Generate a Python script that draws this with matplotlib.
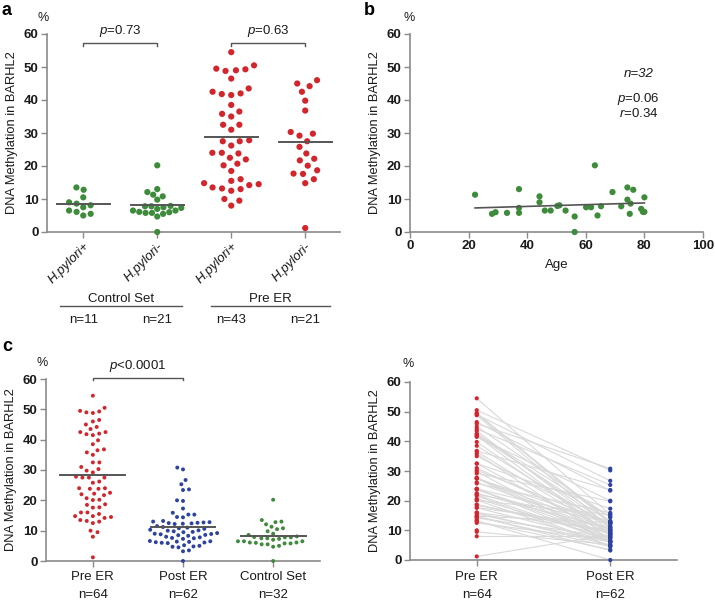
import numpy as np
import matplotlib
matplotlib.use("Agg")
import matplotlib.pyplot as plt
import matplotlib.transforms as mtrans

plt.rcParams['font.family'] = ['Liberation Sans', 'DejaVu Sans']
plt.rcParams['mathtext.fontset'] = 'custom'
plt.rcParams['mathtext.rm'] = 'Liberation Sans'
plt.rcParams['mathtext.it'] = 'Liberation Sans:italic'

# ---------------- data ----------------
control_hp_pos = [13.5, 12.8, 10.5, 8.6, 9.0, 7.5, 6.1, 6.5, 5.0, 5.5, 8.1]
control_hp_pos_age = [74.2, 76.2, 80.0, 75.3, 44.2, 60.1, 79.5, 46.0, 64.0, 28.0, 51.0]
control_hp_neg = [20.2, 13.0, 12.1, 11.3, 10.8, 9.8, 7.9, 7.8, 7.8, 7.5, 7.3, 7.0,
                  6.5, 6.5, 6.1, 6.0, 5.8, 5.8, 5.5, 4.7, 0.0]
control_hp_neg_age = [63.1, 37.2, 69.1, 22.2, 44.2, 74.2, 50.3, 65.2, 72.1, 61.8, 37.2, 78.9,
                      48.0, 53.1, 80.0, 29.2, 33.1, 37.2, 75.0, 56.2, 56.2]
pre_hp_pos = [54.5, 50.5, 49.5, 49.3, 49.0, 48.8, 46.5, 43.5, 42.5, 42.0, 41.8, 41.5,
              38.5, 36.5, 35.8, 35.0, 32.5, 32.5, 31.0, 27.8, 27.5, 27.5, 26.2, 24.0,
              24.0, 23.8, 22.5, 22.0, 20.7, 20.2, 18.5, 16.0, 15.5, 14.8, 14.5, 14.2,
              13.5, 13.2, 13.0, 12.5, 10.0, 9.5, 8.0]
pre_hp_neg = [46.0, 45.0, 44.2, 42.5, 39.8, 36.8, 30.3, 29.8, 29.2, 27.5, 25.8, 23.8,
              22.2, 21.7, 20.1, 18.7, 17.7, 17.6, 16.0, 14.8, 1.2]
# post-ER value for each pre-ER patient (same order as pre_hp_pos + pre_hp_neg), nan = missing
post_paired = [15.3, 30.2, 13.0, 12.5, 26.7, 10.8, 23.4, 9.8, 14.4, 12.8, 8.6, 20.0,
               11.0, 9.2, 6.5, 12.2, 17.3, 8.3, 10.1, 7.6, 12.4, 6.2, 9.5, 13.2,
               5.9, 8.8, 10.6, 6.4, 7.3, 4.8, 9.0, 5.0, 6.0, 12.6, 4.5, 7.8,
               np.nan, 0.0, 3.5, 6.6, np.nan, 5.2, 8.0,
               30.8, 14.5, 25.3, 11.5, 8.9, 23.6, 12.3, 6.1, 19.8, 10.3, 15.9, 7.5,
               12.7, 4.7, 15.3, 9.6, 11.2, 6.3, 10.0, 3.2, 8.5]

a_labels = ['H.pylori+', 'H.pylori-', 'H.pylori+', 'H.pylori-']
a_groups = ['Control Set', 'Pre ER']
c_labels = ['Pre ER', 'Post ER', 'Control Set']
d_labels = ['Pre ER', 'Post ER']
b_text = ['n=32', '$p$=0.06\n$r$=0.34']
p_a = ['$p$=0.73', '$p$=0.63']
p_c = '$p$<0.0001'

RED = '#d3262c'
GREEN = '#3d8b3b'
BLUE = '#2e42a0'
SPINE = '#8a8a8a'
MEANC = '#555555'
TXT = '#1a1a1a'

W, H = 715, 600
fig = plt.figure(figsize=(W / 100, H / 100), dpi=100)


def px_axes(l, t, r, b):
    return fig.add_axes([l / W, 1 - b / H, (r - l) / W, (b - t) / H])


def style(ax):
    for s in ['top', 'right']:
        ax.spines[s].set_visible(False)
    for s in ['left', 'bottom']:
        ax.spines[s].set_color(SPINE)
        ax.spines[s].set_linewidth(1.2)
    ax.tick_params(direction='out', length=4, width=1, color=SPINE, labelcolor=TXT,
                   labelsize=9.5, pad=2)
    ax.set_ylim(0, 60)
    ax.set_yticks(range(0, 61, 10))
    ax.set_yticklabels([str(v) for v in range(0, 61, 10)], fontweight='bold')


def beeswarm(ax, center, vals, D):
    """x positions (data units) of a beeswarm layout with collision distance D pixels"""
    vals = np.asarray(vals, float)
    ppx = ax.transData.transform((1, 0))[0] - ax.transData.transform((0, 0))[0]
    ppy = ax.transData.transform((0, 1))[1] - ax.transData.transform((0, 0))[1]
    xs = np.zeros_like(vals)
    px, py = [], []
    flip = 1.0
    for i in np.argsort(vals, kind='stable'):
        y = vals[i] * ppy
        ivs = []
        for xp, yp in zip(px, py):
            dy = abs(yp - y)
            if dy < D:
                w = np.sqrt(D * D - dy * dy)
                ivs.append((xp - w, xp + w))
        cands = [0.0] + [a for a, _ in ivs] + [b for _, b in ivs]
        cands.sort(key=lambda c: (round(abs(c), 4), -flip * np.sign(c)))
        chosen = 0.0
        for c in cands:
            if all(not (a + 1e-6 < c < b - 1e-6) for a, b in ivs):
                chosen = c
                break
        if chosen != 0:
            flip = -flip
        px.append(chosen)
        py.append(y)
        xs[i] = center + chosen / ppx
    return xs


def ylab(ax):
    ax.set_ylabel('DNA Methylation in BARHL2', fontsize=9.3, color=TXT, labelpad=4)


# ---------------- panel a ----------------
axa = px_axes(47, 34, 340, 232)
axa.set_xlim(-0.49, 3.47)
style(axa)
a_data = [control_hp_pos, control_hp_neg, pre_hp_pos, pre_hp_neg]
a_cols = [GREEN, GREEN, RED, RED]
a_gap = [7.6, 6.4, 9.5, 9.5]
for i, (vals, col, gap) in enumerate(zip(a_data, a_cols, a_gap)):
    xs = beeswarm(axa, i, vals, gap)
    axa.scatter(xs, vals, s=20, color=col, edgecolors='none', clip_on=False, zorder=3)
    m = np.mean(vals)
    axa.plot([i - 0.36, i + 0.36], [m, m], color=MEANC, lw=1.4, zorder=4)
axa.set_xticks(range(4))
axa.set_xticklabels(a_labels, rotation=45, ha='right', rotation_mode='anchor',
                    fontstyle='italic', fontsize=9.5)
ylab(axa)
for (x0, x1), ptxt in zip([(0, 1), (2, 3)], p_a):
    axa.plot([x0, x0, x1, x1], [56.4, 57.3, 57.3, 56.4], color=MEANC, lw=1, clip_on=False)
    axa.text((x0 + x1) / 2, 58.6, ptxt, ha='center', va='bottom', fontsize=9.5, color=TXT)
bt = mtrans.blended_transform_factory(axa.transData, fig.transFigure)
for g, lx0, lx1 in zip(a_groups, [-0.31, 1.72], [1.34, 3.34]):
    axa.text((lx0 + lx1) / 2, 1 - 299 / H, g, transform=bt, ha='center', va='center',
             fontsize=9.5, color=TXT)
    axa.plot([lx0, lx1], [1 - 306 / H] * 2, transform=bt, color=MEANC, lw=1, clip_on=False)
for i, vals in enumerate(a_data):
    axa.text(i, 1 - 320 / H, f'n={len(vals)}', transform=bt, ha='center', va='center',
             fontsize=9.5, color=TXT)

# ---------------- panel b ----------------
axb = px_axes(410, 34, 703, 232)
style(axb)
axb.set_xlim(0, 100)
axb.set_xticks(range(0, 101, 20))
axb.set_xticklabels([str(v) for v in range(0, 101, 20)], fontweight='bold')
ages = np.array(control_hp_pos_age + control_hp_neg_age)
ctrl = np.array(control_hp_pos + control_hp_neg)
axb.scatter(ages, ctrl, s=20, color=GREEN, edgecolors='none', clip_on=False, zorder=3)
k, b0 = np.polyfit(ages, ctrl, 1)
xx = np.array([ages.min(), ages.max()])
axb.plot(xx, k * xx + b0, color=MEANC, lw=1.2, zorder=4)
axb.set_xlabel('Age', fontsize=9.5, color=TXT, labelpad=5)
ylab(axb)
axb.text(78, 47.9, b_text[0], ha='center', va='center', fontsize=9.5, fontstyle='italic', color=TXT)
axb.text(78, 38.4, b_text[1], ha='center', va='center', fontsize=9.5, color=TXT, linespacing=0.95)

# ---------------- panel c ----------------
axc = px_axes(46, 379, 320, 561)
axc.set_xlim(-0.52, 2.52)
style(axc)
pre_all = np.array(pre_hp_pos + pre_hp_neg)
post_all = np.array(post_paired)
post_all = post_all[~np.isnan(post_all)]
c_data = [pre_all, post_all, ctrl]
c_cols = [RED, BLUE, GREEN]
c_gap = [6.5, 6.0, 6.0]
for i, (vals, col, gap) in enumerate(zip(c_data, c_cols, c_gap)):
    xs = beeswarm(axc, i, vals, gap)
    axc.scatter(xs, vals, s=8, color=col, edgecolors='none', clip_on=False, zorder=3)
    m = np.mean(vals)
    axc.plot([i - 0.36, i + 0.36], [m, m], color=MEANC, lw=1.4, zorder=4)
axc.set_xticks(range(3))
axc.set_xticklabels([''] * 3)
ylab(axc)
bc = mtrans.blended_transform_factory(axc.transData, fig.transFigure)
for i, (lab, vals) in enumerate(zip(c_labels, c_data)):
    axc.text(i, 1 - 577 / H, lab, transform=bc, ha='center', va='center', fontsize=9.5, color=TXT)
    axc.text(i, 1 - 595 / H, f'n={len(vals)}', transform=bc, ha='center', va='center',
             fontsize=9.5, color=TXT)
axc.plot([0, 0, 1, 1], [59.6, 60.4, 60.4, 59.6], color=MEANC, lw=1, clip_on=False)
axc.text(0.5, 61.6, p_c, ha='center', va='bottom', fontsize=9.5, color=TXT)

# ---------------- panel d ----------------
axd = px_axes(410, 382, 677, 560)
axd.set_xlim(-0.5, 1.5)
style(axd)
pp = np.array(post_paired)
for pv, qv in zip(pre_all, pp):
    if not np.isnan(qv):
        axd.plot([0, 1], [pv, qv], color='#d9d9d9', lw=0.8, zorder=1)
axd.scatter(np.zeros(len(pre_all)), pre_all, s=9, color=RED, edgecolors='none', clip_on=False, zorder=3)
axd.scatter(np.ones(len(post_all)), post_all, s=9, color=BLUE, edgecolors='none', clip_on=False, zorder=3)
axd.set_xticks([0, 1])
axd.set_xticklabels(['', ''])
ylab(axd)
bd = mtrans.blended_transform_factory(axd.transData, fig.transFigure)
for i, (lab, vals) in enumerate(zip(d_labels, [pre_all, post_all])):
    axd.text(i, 1 - 577 / H, lab, transform=bd, ha='center', va='center', fontsize=9.5, color=TXT)
    axd.text(i, 1 - 595 / H, f'n={len(vals)}', transform=bd, ha='center', va='center',
             fontsize=9.5, color=TXT)

# ---------------- letters & % ----------------
for x, y, L in [(2, 2, 'a'), (364, 2, 'b'), (2, 338, 'c')]:
    fig.text(x / W, 1 - y / H, L, ha='left', va='top', fontsize=13, fontweight='bold', color='black')
for x, y in [(43, 18), (409, 18), (42, 363), (408, 364)]:
    fig.text(x / W, 1 - y / H, '%', ha='center', va='center', fontsize=9, color=TXT)

fig.savefig('out.png', dpi=100)
